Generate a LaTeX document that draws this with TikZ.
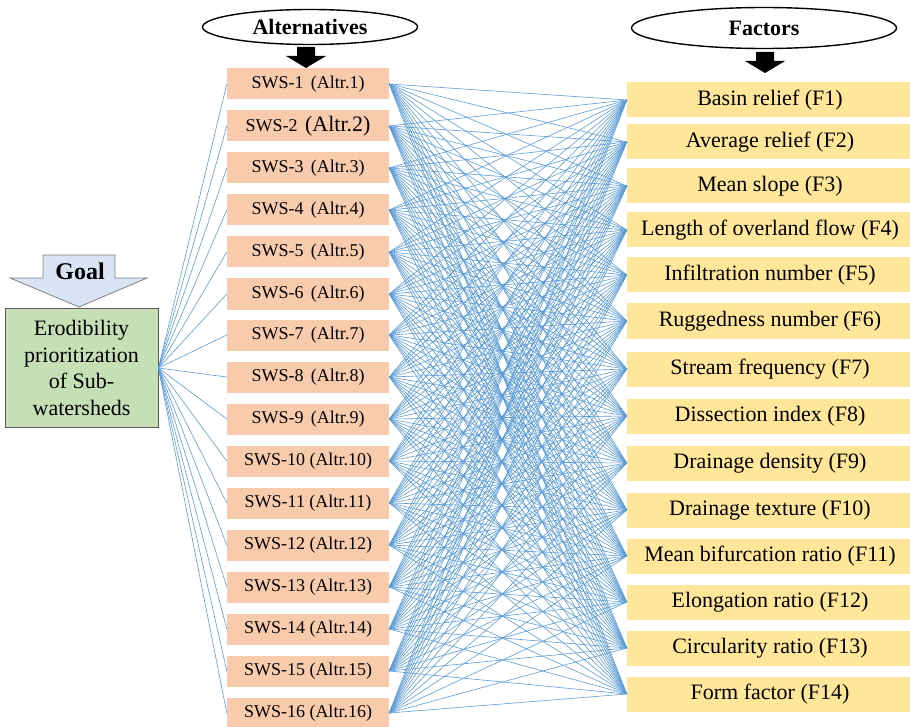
\documentclass[tikz,border=0pt]{standalone}
\usepackage{fontspec}
\setmainfont{Liberation Serif}
\usetikzlibrary{calc}
\usetikzlibrary{shapes}
\definecolor{altfill}{HTML}{F8CBAD}
\definecolor{facfill}{HTML}{FFE699}
\definecolor{goalfill}{HTML}{C5E0B4}
\definecolor{tagfill}{HTML}{DAE3F3}
\definecolor{linkblue}{HTML}{5B9BD5}
\tikzset{
  altnode/.style={shape=rectangle,fill=altfill,draw=none,minimum width=162,minimum height=31,inner sep=2pt,font=\fontsize{18}{20}\selectfont},
  facnode/.style={shape=rectangle,fill=facfill,draw=none,minimum width=286,minimum height=35,inner sep=2pt,font=\fontsize{22}{24}\selectfont},
  headnode/.style={shape=ellipse,draw,line width=1.4pt,inner sep=0pt,font=\bfseries\fontsize{22}{24}\selectfont},
  link/.style={draw=linkblue,line width=0.6pt}
}
\newcommand{\altbox}[3]{\node[altnode] (#1) at ( 308 , #2 ) {#3};}
\newcommand{\facbox}[3]{\node[facnode] (#1) at ( 770 , #2 ) {#3};}
\newcommand{\blkarrow}[2]{\fill ( #1-9 , #2 ) -- ( #1+9 , #2 ) -- ( #1+9 , #2+9 ) -- ( #1+20 , #2+9 ) -- ( #1 , #2+21 ) -- ( #1-20 , #2+9 ) -- ( #1-9 , #2+9 ) -- cycle;}

\begin{document}
\begin{tikzpicture}[x=1pt,y=-1pt]
        \useasboundingbox (0,0) rectangle (910,727);

        % headings
        \node[headnode,minimum width=215,minimum height=35] (althead) at ( 310 , 27 ) {Alternatives};
        \node[headnode,minimum width=265,minimum height=41] (fachead) at ( 764 , 28 ) {Factors};
        \blkarrow{306}{47}
        \blkarrow{765}{52}

        % goal
        \filldraw[fill=tagfill,draw=gray,line width=0.8pt] (43,255) -- (115,255) -- (115,278) -- (147,278) -- (79,307) -- (10,278) -- (43,278) -- cycle;
        \node[font=\bfseries\fontsize{24}{26}\selectfont] (goaltag) at ( 80 , 271 ) {Goal};
        \node[shape=rectangle,fill=goalfill,draw=black!65,line width=0.8pt,minimum width=153,minimum height=119,align=center,font=\fontsize{22}{26.5}\selectfont] (goal) at ( 81.5 , 368 ) {Erodibility\\prioritization\\of Sub-\\watersheds};

        % alternatives
        \altbox{alt1}{84}{SWS-1 \,(Altr.1)}
        \altbox{alt2}{126}{SWS-2 \,{\fontsize{22}{24}\selectfont(Altr.2)}}
        \altbox{alt3}{168}{SWS-3 \,(Altr.3)}
        \altbox{alt4}{210}{SWS-4 \,(Altr.4)}
        \altbox{alt5}{252}{SWS-5 \,(Altr.5)}
        \altbox{alt6}{294}{SWS-6 \,(Altr.6)}
        \altbox{alt7}{335}{SWS-7 \,(Altr.7)}
        \altbox{alt8}{377}{SWS-8 \,(Altr.8)}
        \altbox{alt9}{419}{SWS-9 \,(Altr.9)}
        \altbox{alt10}{461}{SWS-10 (Altr.10)}
        \altbox{alt11}{503}{SWS-11 (Altr.11)}
        \altbox{alt12}{545}{SWS-12 (Altr.12)}
        \altbox{alt13}{587}{SWS-13 (Altr.13)}
        \altbox{alt14}{629}{SWS-14 (Altr.14)}
        \altbox{alt15}{671}{SWS-15 (Altr.15)}
        \altbox{alt16}{713}{SWS-16 (Altr.16)}

        % factors
        \facbox{fac1}{100}{Basin relief (F1)}
        \facbox{fac2}{142}{Average relief (F2)}
        \facbox{fac3}{186}{Mean slope (F3)}
        \facbox{fac4}{230}{Length of overland flow (F4)}
        \facbox{fac5}{275}{Infiltration number (F5)}
        \facbox{fac6}{321}{Ruggedness number (F6)}
        \facbox{fac7}{369}{Stream frequency (F7)}
        \facbox{fac8}{416}{Dissection index (F8)}
        \facbox{fac9}{463}{Drainage density (F9)}
        \facbox{fac10}{510}{Drainage texture (F10)}
        \facbox{fac11}{556}{Mean bifurcation ratio (F11)}
        \facbox{fac12}{602}{Elongation ratio (F12)}
        \facbox{fac13}{648}{Circularity ratio (F13)}
        \facbox{fac14}{694}{Form factor (F14)}

        % links
        \foreach \i in {1,...,16} {
            \draw[link] (goal.east) -- (alt\i.west);
            \foreach \j in {1,...,14} {
                \draw[link] (alt\i.east) -- (fac\j.west);
            }
        }
    \end{tikzpicture}
\end{document}
